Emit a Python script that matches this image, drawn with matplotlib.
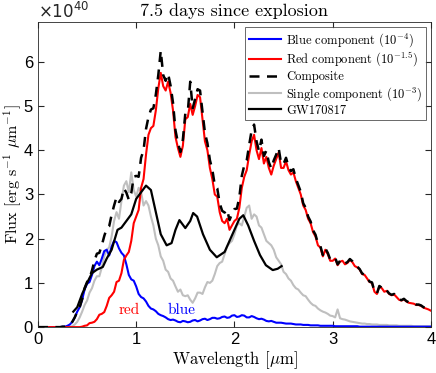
import numpy as np
import matplotlib
matplotlib.use('Agg')
import matplotlib.pyplot as plt

plt.rcParams['mathtext.fontset'] = 'cm'

# wavelength grid in micron, 0.025 steps from 0 to 4
wl = np.arange(161) * 0.025

blue = [0, 0, 0, 0, 0, 0, 0, 0, 0, 0,
        0.01, 0.01, 0.03, 0.06, 0.12, 0.22, 0.35, 0.45, 0.62, 0.85,
        0.98, 1.02, 1.18, 1.38, 1.48, 1.40, 1.55, 1.72, 1.75, 1.62,
        1.82, 1.95, 1.92, 1.78, 1.68, 1.62, 1.42, 1.18, 1.08, 1.05,
        0.92, 0.75, 0.68, 0.65, 0.58, 0.48, 0.42, 0.40, 0.36, 0.30,
        0.27, 0.25, 0.22, 0.18, 0.16, 0.17, 0.15, 0.12, 0.11, 0.14,
        0.13, 0.11, 0.12, 0.15, 0.16, 0.13, 0.15, 0.18, 0.19, 0.16,
        0.18, 0.21, 0.21, 0.19, 0.20, 0.23, 0.24, 0.21, 0.22, 0.26,
        0.27, 0.23, 0.24, 0.27, 0.26, 0.22, 0.22, 0.25, 0.23, 0.20,
        0.18, 0.19, 0.17, 0.14, 0.13, 0.14, 0.12, 0.10, 0.10, 0.10,
        0.09, 0.08, 0.08, 0.08, 0.07, 0.06, 0.06, 0.06, 0.05, 0.05,
        0.05, 0.04, 0.04, 0.04, 0.04, 0.03, 0.03, 0.03, 0.03, 0.03,
        0.03, 0.02, 0.02, 0.02, 0.02, 0.02, 0.02, 0.02, 0.02, 0.02,
        0.02, 0.01, 0.01, 0.01, 0.01, 0.01, 0.01, 0.01, 0.01, 0.01,
        0.01, 0.01, 0.01, 0.01, 0.01, 0.01, 0.01, 0.01, 0.01, 0.01,
        0.01, 0.01, 0.01, 0.01, 0.01, 0.01, 0.01, 0.01, 0.01, 0.01,
        0.01]

red = [0, 0, 0, 0, 0, 0, 0, 0, 0, 0,
       0, 0, 0, 0, 0, 0, 0, 0, 0.01, 0.03,
       0.04, 0.09, 0.10, 0.12, 0.18, 0.28, 0.30, 0.34, 0.48, 0.66,
       0.72, 0.80, 1.02, 1.05, 1.22, 1.52, 1.62, 1.70, 1.95, 2.35,
       2.50, 2.65, 3.15, 3.35, 3.90, 4.35, 4.50, 4.55, 4.90, 5.40,
       5.75, 5.45, 5.35, 5.55, 5.30, 4.90, 4.30, 4.05, 3.85, 4.10,
       4.70, 4.75, 5.05, 4.80, 5.00, 5.25, 5.20, 4.70, 4.20, 4.00,
       3.60, 3.35, 3.00, 2.95, 2.60, 2.40, 2.35, 2.45, 2.20, 2.30,
       2.40, 2.45, 2.70, 3.15, 3.40, 3.55, 3.90, 4.20, 4.35, 4.00,
       3.80, 4.05, 3.70, 3.85, 3.60, 3.45, 3.65, 3.80, 3.95, 3.60,
       3.60, 3.75, 3.55, 3.45, 3.50, 3.30, 3.15, 3.00, 2.75, 2.65,
       2.45, 2.35, 2.15, 2.05, 1.85, 1.80, 1.60, 1.75, 1.65, 1.50,
       1.50, 1.55, 1.40, 1.48, 1.50, 1.42, 1.45, 1.52, 1.47, 1.38,
       1.35, 1.30, 1.20, 1.18, 1.10, 1.02, 1.00, 0.80, 0.75, 0.92,
       0.88, 0.80, 0.82, 0.75, 0.72, 0.74, 0.68, 0.62, 0.60, 0.63,
       0.58, 0.55, 0.54, 0.53, 0.50, 0.50, 0.48, 0.44, 0.42, 0.40,
       0.37]

composite = [0, 0, 0, 0, 0, 0, 0, 0, 0, 0,
             0.01, 0.01, 0.03, 0.06, 0.12, 0.22, 0.35, 0.45, 0.63, 0.88,
             1.02, 1.11, 1.28, 1.50, 1.66, 1.68, 1.85, 2.06, 2.23, 2.28,
             2.54, 2.75, 2.94, 2.83, 2.90, 3.14, 3.04, 2.88, 3.03, 3.40,
             3.42, 3.40, 3.83, 4.00, 4.48, 4.75, 4.92, 4.95, 5.26, 5.70,
             6.25, 5.70, 5.57, 5.73, 5.46, 5.07, 4.45, 4.17, 3.96, 4.24,
             4.83, 4.86, 5.55, 4.95, 5.16, 5.38, 5.35, 4.88, 4.39, 4.16,
             3.78, 3.56, 3.21, 3.14, 2.80, 2.63, 2.59, 2.66, 2.42, 2.56,
             2.67, 2.68, 2.94, 3.42, 3.66, 3.77, 4.12, 4.45, 4.58, 4.20,
             3.98, 4.24, 3.87, 3.99, 3.73, 3.59, 3.77, 3.90, 4.05, 3.70,
             3.69, 3.83, 3.63, 3.53, 3.57, 3.36, 3.21, 3.06, 2.80, 2.70,
             2.50, 2.39, 2.19, 2.09, 1.89, 1.83, 1.63, 1.78, 1.68, 1.53,
             1.53, 1.57, 1.42, 1.50, 1.52, 1.44, 1.47, 1.54, 1.49, 1.40,
             1.37, 1.31, 1.21, 1.19, 1.11, 1.03, 1.01, 0.81, 0.76, 0.93,
             0.89, 0.81, 0.83, 0.76, 0.73, 0.75, 0.69, 0.63, 0.61, 0.64,
             0.59, 0.56, 0.55, 0.54, 0.51, 0.51, 0.49, 0.45, 0.43, 0.41,
             0.38]

single = [0, 0, 0, 0, 0, 0, 0, 0, 0, 0,
          0, 0, 0, 0.01, 0.02, 0.06, 0.12, 0.22, 0.35, 0.50,
          0.60, 0.78, 0.88, 1.05, 1.15, 1.15, 1.35, 1.60, 1.75, 1.80,
          2.05, 2.40, 2.60, 2.45, 2.85, 3.20, 3.30, 3.05, 3.50, 3.10,
          2.95, 3.15, 3.05, 2.75, 2.85, 2.75, 2.50, 2.30, 2.00, 1.85,
          1.60, 1.50, 1.30, 1.25, 1.10, 1.05, 0.92, 0.80, 0.85, 0.72,
          0.70, 0.72, 0.62, 0.55, 0.65, 0.78, 0.78, 0.75, 0.90, 1.02,
          1.00, 1.05, 1.20, 1.38, 1.45, 1.48, 1.65, 1.82, 1.90, 1.95,
          2.10, 2.30, 2.35, 2.30, 2.50, 2.70, 2.75, 2.45, 2.55, 2.50,
          2.30, 2.25, 2.10, 1.95, 1.90, 1.85, 1.75, 1.58, 1.50, 1.42,
          1.25, 1.20, 1.10, 1.05, 0.95, 0.88, 0.85, 0.78, 0.72, 0.70,
          0.62, 0.55, 0.50, 0.48, 0.42, 0.38, 0.35, 0.33, 0.30, 0.26,
          0.25, 0.22, 0.40, 0.20, 0.18, 0.17, 0.15, 0.13, 0.12, 0.11,
          0.10, 0.09, 0.08, 0.08, 0.07, 0.07, 0.06, 0.06, 0.06, 0.05,
          0.05, 0.05, 0.05, 0.04, 0.04, 0.04, 0.04, 0.03, 0.03, 0.03,
          0.03, 0.03, 0.03, 0.02, 0.02, 0.02, 0.02, 0.02, 0.02, 0.02,
          0.02]

# observed spectrum
gw_wl = [0.36, 0.40, 0.45, 0.50, 0.55, 0.60, 0.66, 0.70, 0.75, 0.81,
         0.85, 0.90, 0.95, 1.00, 1.05, 1.10, 1.15, 1.20, 1.25, 1.31,
         1.36, 1.40, 1.44, 1.50, 1.55, 1.58, 1.62, 1.68, 1.75, 1.82,
         1.90, 1.98, 2.05, 2.09, 2.14, 2.20, 2.26, 2.32, 2.39, 2.44,
         2.48]
gw = [0.35, 0.45, 0.75, 1.00, 1.22, 1.30, 1.36, 1.55, 1.75, 2.20,
      2.25, 2.40, 2.55, 2.90, 3.05, 3.20, 3.10, 2.60, 2.10, 1.85,
      1.90, 2.20, 2.42, 2.24, 2.40, 2.58, 2.50, 2.10, 1.75, 1.58,
      1.70, 2.10, 2.45, 2.53, 2.30, 1.95, 1.63, 1.40, 1.29, 1.32,
      1.38]

labels = [r'Blue component $(10^{-4})$', r'Red component $(10^{-1.5})$',
          'Composite', r'Single component $(10^{-3})$', 'GW170817']

serif = 'cmr10'

fig = plt.figure(figsize=(4.36, 3.73), dpi=100)
ax = fig.add_axes([0.087, 0.123, 0.9014, 0.818])

ax.plot(wl, blue, color='#0000ff', lw=1.5, label=labels[0])
ax.plot(wl, red, color='#ff0000', lw=1.5, label=labels[1])
ax.plot(wl, composite, color='k', lw=1.8, ls=(0, (4, 3)), label=labels[2])
ax.plot(wl, single, color='#bfbfbf', lw=1.5, label=labels[3], zorder=1)
ax.plot(gw_wl, gw, color='k', lw=1.6, label=labels[4])

ax.text(0.82, 0.3, 'red', color='#ff0000', fontsize=11, family=serif)
ax.text(1.32, 0.3, 'blue', color='#0000ff', fontsize=11, family=serif)

ax.set_xlim(0, 4)
ax.set_ylim(0, 6.9)
ax.set_xticks([0, 1, 2, 3, 4])
ax.set_yticks([0, 1, 2, 3, 4, 5, 6])
ax.tick_params(direction='in', top=True, right=True, labelsize=12,
               colors='#262626', length=4)
for lab in ax.get_xticklabels() + ax.get_yticklabels():
    lab.set_family('Liberation Sans')
    lab.set_color('k')
for s in ax.spines.values():
    s.set_color('#262626')
    s.set_linewidth(0.6)

ax.set_title('7.5 days since explosion', family=serif, fontsize=13, pad=4)
ax.set_xlabel(r'Wavelength [$\mu$m]', family=serif, fontsize=12, labelpad=2)
ax.set_ylabel(r'Flux [erg s$^{-1}$ $\mu$m$^{-1}$]', family=serif,
              fontsize=11.5, labelpad=0)
fig.text(0.087, 0.952, r'$\times10^{40}$', fontsize=12, family='Liberation Sans',
         math_fontfamily='dejavusans', color='#262626')

leg = ax.legend(loc='upper right', prop={'family': serif, 'size': 9},
                handlelength=2.6, borderaxespad=0.4, fancybox=False,
                labelspacing=0.15, borderpad=0.3, handletextpad=0.4)
leg.get_frame().set_edgecolor('#262626')
leg.get_frame().set_linewidth(0.6)

fig.savefig('out.png', dpi=100)
